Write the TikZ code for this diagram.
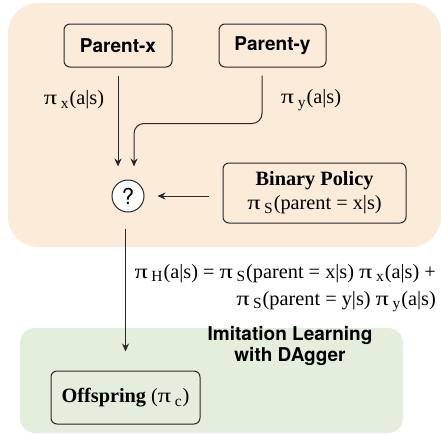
\documentclass[tikz,border=0pt]{standalone}
\usepackage{fontspec}
\setmainfont{Liberation Serif}
\setsansfont{TeX Gyre Heros}
\usetikzlibrary{arrows.meta}
\definecolor{peach}{RGB}{253,235,218}
\definecolor{sage}{RGB}{227,238,221}
\definecolor{edge}{RGB}{40,40,40}
\newcommand\pisym{\scalebox{1.3}[1]{π}\hspace{3.5pt}}
\newcommand\sbs[1]{\raisebox{-0.4ex}{\fontsize{15.5}{15.5}\selectfont #1}\hspace{1pt}}
\tikzset{
  pbox/.style={draw=edge, line width=1pt, rounded corners=6pt, fill=peach, inner sep=0pt},
  sansb/.style={font=\fontsize{19}{22}\selectfont\sffamily\bfseries},
  serif/.style={font=\fontsize{20.3}{24}\selectfont},
  arr/.style={draw=edge, line width=1pt, -{Stealth[length=8pt,width=7pt]}},
}
\begin{document}
\begin{tikzpicture}[x=1pt,y=-1pt]
\useasboundingbox (0,0) rectangle (441,434);
\fill[peach, rounded corners=30pt] (8,3) rectangle (441,247);
\fill[sage, rounded corners=15pt] (20,328) rectangle (403,433);

\node[pbox, sansb, minimum width=108pt, minimum height=43pt] (px) at (118,45.5) {Parent-x};
\node[pbox, sansb, minimum width=107pt, minimum height=43pt] (py) at (272.5,45.5) {Parent-y};
\node[serif] (lx) at (74,100) {\pisym\sbs{x}(a|s)};
\node[serif] (ly) at (311,100) {\pisym\sbs{y}(a|s)};
\node[draw=edge, line width=1pt, fill=white, circle, minimum size=32pt, inner sep=0pt, font=\fontsize{22}{22}\selectfont\sffamily] (q) at (128,196) {?};
\node[pbox, serif, minimum width=183pt, minimum height=60pt, align=center] (bp) at (314.5,193)
  {\textbf{Binary Policy}\\[0pt] \pisym\sbs{S}(parent = x|s)};
\node[serif, align=right, anchor=east, inner sep=0pt] (fm) at (436,288)
  {\pisym\sbs{H}(a|s) = \pisym\sbs{S}(parent = x|s) \pisym\sbs{x}(a|s) +\\[3pt]
   \pisym\sbs{S}(parent = y|s) \pisym\sbs{y}(a|s)};
\node[align=center, inner sep=0pt, font=\fontsize{19}{21}\selectfont\sffamily\bfseries] (il) at (290,346) {Imitation Learning\\with DAgger};
\node[pbox, fill=sage, serif, minimum width=149pt, minimum height=53pt] (off) at (125.5,397.5)
  {\textbf{Offspring} (\pisym\sbs{c})};

\draw[arr, shorten <=8pt, shorten >=13pt] (px.south) -- (px.south |- q.north);
\draw[arr, shorten <=8pt, shorten >=13pt, rounded corners=10pt]
  ([xshift=-10.5pt]py.south) -- ++(0,56) -| ([xshift=6pt]q.north);
\draw[arr, shorten <=14pt, shorten >=13pt] (bp.west |- q) -- (q.east);
\draw[arr, shorten <=16pt, shorten >=19pt] (off.north |- q.south) -- (off.north);
\end{tikzpicture}
\end{document}
